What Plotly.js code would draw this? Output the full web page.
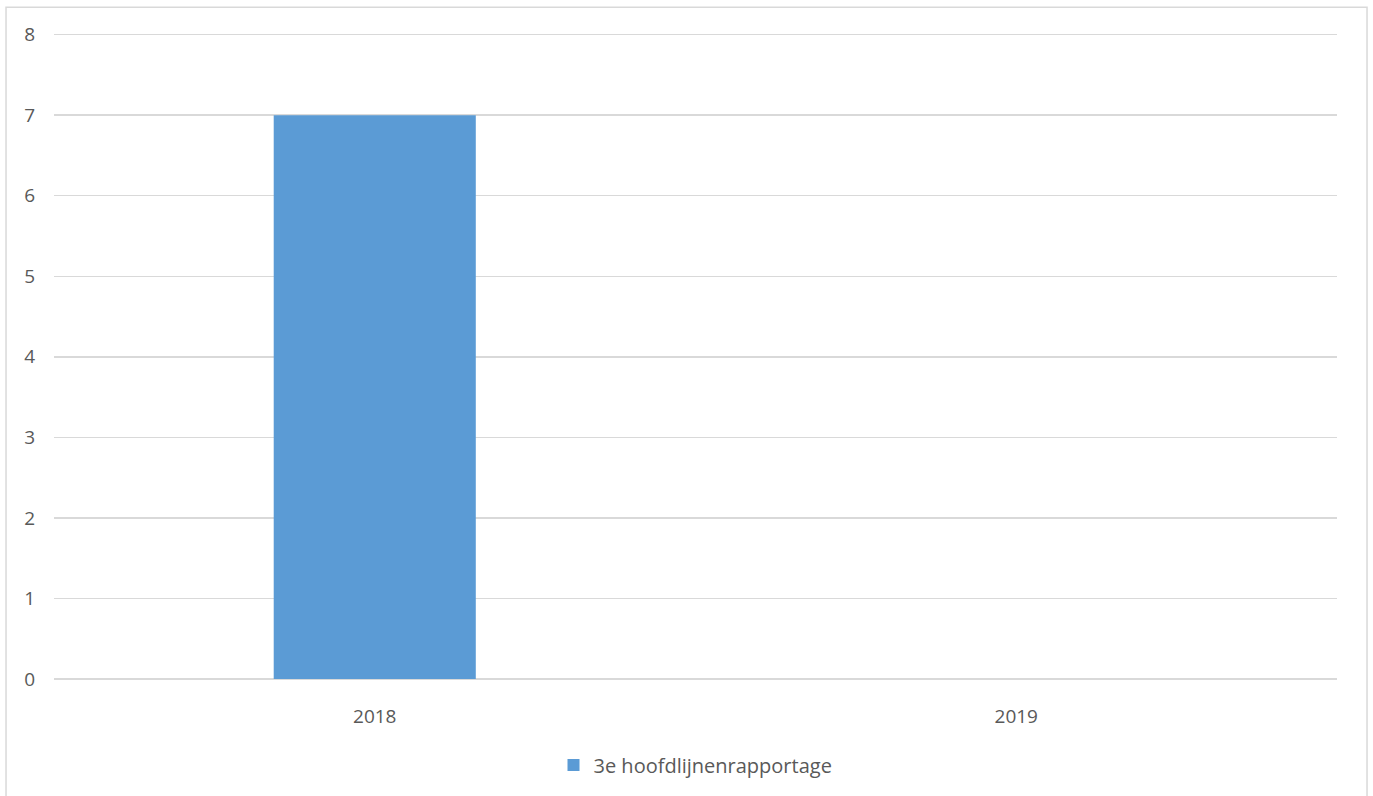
<!DOCTYPE html>
<html>
<head>
<meta charset="utf-8">
<script src="https://cdn.plot.ly/plotly-3.0.1.min.js"></script>
<style>html,body{margin:0;padding:0;background:#fff;}#chart{width:1373px;height:796px;}</style>
</head>
<body>
<div id="chart"></div>
<script>
const categories = ["2018", "2019"];
const seriesName = "3e hoofdlijnenrapportage";
const seriesValues = [7, 0];
const yTicks = [0, 1, 2, 3, 4, 5, 6, 7, 8];

const textColor = "#595959";
const gridColor = "#d9d9d9";
const fontFamily = "Open Sans, Liberation Sans, sans-serif";

const trace = {
  type: "bar",
  x: categories,
  y: seriesValues,
  name: seriesName,
  marker: {color: "#5b9bd5"},
  width: 0.315,
  showlegend: true
};

const layout = {
  width: 1373,
  height: 796,
  paper_bgcolor: "#fff",
  plot_bgcolor: "#fff",
  margin: {l: 54, r: 36, t: 33, b: 114},
  font: {family: fontFamily, size: 20, color: textColor},
  xaxis: {
    type: "category",
    showgrid: false,
    zeroline: false,
    showline: false,
    ticks: "",
    ticklabelstandoff: 24,
    tickfont: {size: 19, color: textColor}
  },
  yaxis: {
    range: [0, 8.02],
    tickvals: yTicks,
    showgrid: true,
    gridcolor: gridColor,
    gridwidth: 1.5,
    zeroline: true,
    zerolinecolor: gridColor,
    zerolinewidth: 1.5,
    showline: false,
    ticks: "",
    ticklabelstandoff: 18,
    tickfont: {size: 19, color: textColor}
  },
  showlegend: true,
  legend: {
    orientation: "h",
    x: 0.5,
    xanchor: "center",
    y: -0.133,
    yanchor: "middle",
    font: {size: 20, color: textColor},
    itemwidth: 30
  },
  shapes: [{
    type: "rect",
    xref: "paper",
    yref: "paper",
    x0: -0.0374,
    x1: 1.0234,
    y0: -0.2,
    y1: 1.04,
    line: {color: gridColor, width: 1.5},
    fillcolor: "rgba(0,0,0,0)",
    layer: "below"
  }]
};

Plotly.newPlot("chart", [trace], layout, {displayModeBar: false, staticPlot: true});
</script>
</body>
</html>
